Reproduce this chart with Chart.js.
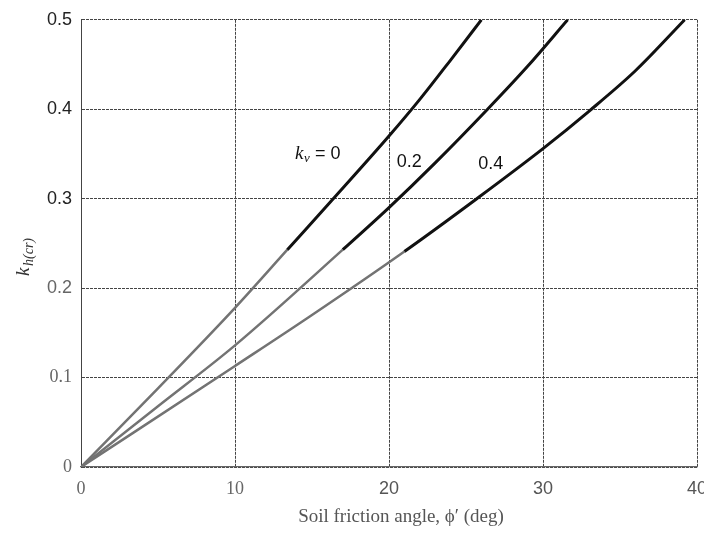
<!DOCTYPE html>
<html>
<head>
<meta charset="utf-8">
<script src="https://cdn.jsdelivr.net/npm/chart.js@4.4.1/dist/chart.umd.min.js"></script>
<style>
  html, body { margin: 0; padding: 0; background: #fff; }
  #wrap { width: 704px; height: 536px; }
</style>
</head>
<body>
<div id="wrap"><canvas id="khChart" width="704" height="536"></canvas></div>
<script>
// --- data: friction angle (deg) vs critical horizontal coefficient ---
const phiKv0 = [0, 5, 10, 13.4, 16.7, 20, 22, 24, 26.0];
const khKv0 = [0, 0.088, 0.178, 0.243, 0.306, 0.370, 0.411, 0.455, 0.5];

const phiKv02 = [0, 5, 10, 17.0, 20, 23, 26.4, 29, 31.6];
const khKv02 = [0, 0.068, 0.136, 0.243, 0.290, 0.340, 0.400, 0.448, 0.5];

const phiKv04 = [0, 10, 15, 21.0, 25.7, 30, 33, 36, 39.2];
const khKv04 = [0, 0.113, 0.170, 0.241, 0.300, 0.356, 0.398, 0.443, 0.5];

// curve turns from grey to black past this k_h
const darkFrom = 0.24;

const xTicks = [0, 10, 20, 30, 40];
const yTicks = [0, 0.1, 0.2, 0.3, 0.4, 0.5];

const curveLabels = [
  { text: "0.2", x: 20.5, y: 0.341 },
  { text: "0.4", x: 25.8, y: 0.339 },
];

// === helpers ===
function toPoints(xs, ys) {
  return xs.map((x, i) => ({ x, y: ys[i] }));
}

function curve(xs, ys) {
  return {
    data: toPoints(xs, ys),
    borderColor: "#111",
    borderWidth: 2.8,
    pointRadius: 0,
    cubicInterpolationMode: "monotone",
    segment: {
      borderColor: (c) => (c.p0.parsed.y >= darkFrom - 1e-6 ? "#111" : "#737373"),
      borderWidth: (c) => (c.p0.parsed.y >= darkFrom - 1e-6 ? 3 : 2.5),
    },
  };
}

// labels, y axis title with subscript, x axis title
const annotate = {
  id: "annotate",
  afterDatasetsDraw(chart) {
    const { ctx, scales } = chart;
    const x = scales.x, y = scales.y;
    ctx.save();
    ctx.fillStyle = "#111";
    ctx.textBaseline = "middle";

    // k_v = 0
    let px = x.getPixelForValue(13.9), py = y.getPixelForValue(0.35);
    ctx.font = "italic 19px 'Liberation Serif'";
    ctx.textAlign = "left";
    ctx.fillText("k", px, py);
    ctx.font = "italic 13px 'Liberation Serif'";
    ctx.fillText("v", px + 9, py + 5);
    ctx.font = "18px 'Liberation Sans'";
    ctx.fillText("= 0", px + 20, py);

    ctx.font = "18px 'Liberation Sans'";
    curveLabels.forEach((l) => {
      ctx.fillText(l.text, x.getPixelForValue(l.x), y.getPixelForValue(l.y));
    });

    // y title  k_h(cr)
    ctx.translate(24, 249);
    ctx.rotate(-Math.PI / 2);
    ctx.fillStyle = "#333";
    ctx.textAlign = "left";
    ctx.font = "italic 19px 'Liberation Serif'";
    ctx.fillText("k", -27, 0);
    ctx.font = "italic 14px 'Liberation Serif'";
    ctx.fillText("h(cr)", -17, 5);
    ctx.restore();

    // x title
    ctx.save();
    ctx.fillStyle = "#555";
    ctx.font = "19px 'Liberation Serif'";
    ctx.textAlign = "center";
    ctx.textBaseline = "middle";
    ctx.fillText("Soil friction angle, \u03d5\u2032 (deg)", 401, 517);
    ctx.restore();
  },
};

const ctx = document.getElementById("khChart").getContext("2d");

new Chart(ctx, {
  type: "line",
  data: {
    datasets: [curve(phiKv0, khKv0), curve(phiKv02, khKv02), curve(phiKv04, khKv04)],
  },
  options: {
    responsive: false,
    animation: false,
    layout: { padding: { top: 16, right: 7, left: 0, bottom: 0 } },
    plugins: { legend: { display: false }, tooltip: { enabled: false } },
    scales: {
      x: {
        type: "linear",
        min: 0,
        max: 40,
        afterBuildTicks: (s) => { s.ticks = xTicks.map((v) => ({ value: v })); },
        afterFit: (s) => { s.height = 69; s.paddingLeft = 0; s.paddingRight = 0; },
        border: { display: true, color: "#666", width: 1.2, dash: [3, 1] },
        grid: {
          color: "#444",
          lineWidth: 1,
          drawTicks: false,
        },
        ticks: {
          padding: 11,
          color: (c) => (c.tick && c.tick.value < 20 ? "#666" : "#555"),
          font: (c) => ({
            family: c.tick && c.tick.value < 20 ? "Liberation Serif" : "Liberation Sans",
            size: 18,
          }),
        },
      },
      y: {
        min: 0,
        max: 0.5,
        afterBuildTicks: (s) => { s.ticks = yTicks.map((v) => ({ value: v })); },
        afterFit: (s) => { s.width = 81; },
        border: { display: true, color: "#444", width: 1, dash: [3, 1] },
        grid: {
          color: "#444",
          lineWidth: 1,
          drawTicks: false,
        },
        ticks: {
          padding: 9,
          color: (c) => (c.tick && c.tick.value < 0.25 ? "#666" : "#222"),
          font: (c) => ({
            family: c.tick && c.tick.value < 0.15 ? "Liberation Serif" : "Liberation Sans",
            size: 18,
          }),
          callback: (v) => String(v),
        },
      },
    },
  },
  plugins: [annotate],
});
</script>
</body>
</html>
